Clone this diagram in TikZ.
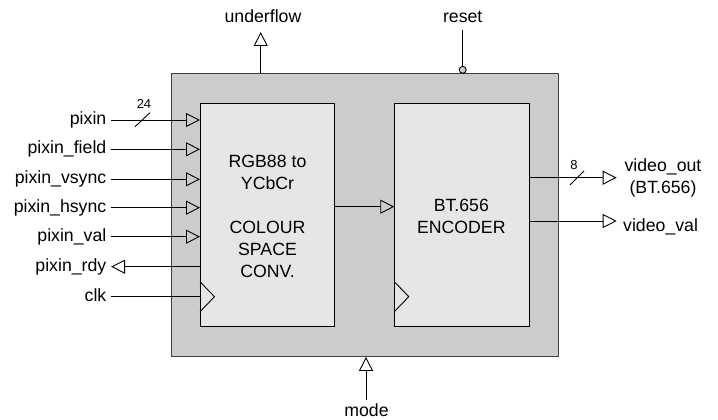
\documentclass[tikz,border=0pt]{standalone}
\usepackage{fontspec}
\setmainfont{Liberation Sans}
\usetikzlibrary{arrows.meta}
\definecolor{outerfill}{RGB}{204,204,204}
\definecolor{innerfill}{RGB}{230,230,230}
\tikzset{
  every node/.style={font=\fontsize{17.7}{22}\selectfont},
  sig/.style={line width=0.9pt, draw=black},
  tip/.style={sig, -{Triangle[open, length=14pt, width=14pt, line width=0.9pt]}},
  lbl/.style={inner xsep=4.5pt, inner ysep=0pt, text height=13.2pt, text depth=4pt},
  small/.style={font=\fontsize{13}{15}\selectfont, inner sep=0pt},
  blockbox/.style={draw=black, line width=0.9pt, fill=innerfill, inner sep=0pt, anchor=north west,
    minimum width=134.2pt, minimum height=222.7pt},
}
\begin{document}
\begin{tikzpicture}[x=1pt,y=-1pt]
\useasboundingbox (0,0) rectangle (718,420);

% boxes
\node (outer) [draw=black!75, line width=0.9pt, fill=outerfill, inner sep=0pt, anchor=north west,
  minimum width=386.5pt, minimum height=282.7pt] at (171,73.3) {};
\node (lbox) [blockbox] at (200,103.3) {};
\node (rbox) [blockbox] at (394.3,103.3) {};

% box texts (base anchor = last line baseline)
\node (ltext) [anchor=base, align=center, inner sep=0pt] at (267.5,277.5)
  {RGB88 to\\YCbCr\\[22pt]COLOUR\\SPACE\\CONV.};
\node (rtext) [anchor=base, align=center, inner sep=0pt] at (461.3,233.3)
  {BT.656\\ENCODER};

% clock triangles
\draw[sig, line join=miter] (200,281.7) -- (214.5,296.7) -- (200,311.7);
\draw[sig, line join=miter] (394.3,281.7) -- (408.8,296.7) -- (394.3,311.7);

% left labels
\node (pixin)  [lbl, anchor=east] at (111,120)   {pixin};
\node (pfield) [lbl, anchor=east] at (111,149.3) {pixin\_field};
\node (pvs)    [lbl, anchor=east] at (111,179.3) {pixin\_vsync};
\node (phs)    [lbl, anchor=east] at (111,207.7) {pixin\_hsync};
\node (pval)   [lbl, anchor=east] at (111,236.7) {pixin\_val};
\node (prdy)   [lbl, anchor=east] at (111,266.7) {pixin\_rdy};
\node (clk)    [lbl, anchor=east] at (111,296.7) {clk};

\draw[tip] (pixin.east)  -- (pixin.east -| lbox.west);
\draw[tip] (pfield.east) -- (pfield.east -| lbox.west);
\draw[tip] (pvs.east)    -- (pvs.east -| lbox.west);
\draw[tip] (phs.east)    -- (phs.east -| lbox.west);
\draw[tip] (pval.east)   -- (pval.east -| lbox.west);
\draw[tip] (prdy.east -| lbox.west) -- (prdy.east);
\draw[sig] (clk.east)    -- (clk.east -| lbox.west);

% bus width on pixin
\draw[sig] (135,126.7) -- (150,112.7);
\node (w24) [small, anchor=base] at (144,108.3) {24};

% internal connection
\coordinate (mid) at (0,206.7);
\draw[tip] (lbox.east |- mid) -- (rbox.west |- mid);

% top signals
\node (uflow) [anchor=base, inner sep=0pt] at (263,22.7) {underflow};
\node (reset) [anchor=base, inner sep=0pt] at (462.7,22.7) {reset};
\coordinate (uftip) at (260.7,32);
\draw[tip] (outer.north -| uftip) -- (uftip);
\node (rstbub) [circle, draw=black, line width=0.9pt, fill=outerfill, inner sep=0pt, minimum size=7pt]
  at (462.7,69.8) {};
\draw[sig] (462.7,30) -- (rstbub.north);

% bottom signal
\node (mode) [anchor=base, inner sep=0pt] at (366.5,416.8) {mode};
\coordinate (modebot) at (366,400);
\draw[tip] (modebot) -- (outer.south -| modebot);

% right outputs
\coordinate (votip) at (616.7,177.7);
\coordinate (vvtip) at (616.7,221);
\draw[tip] (rbox.east |- votip) -- (votip);
\draw[tip] (rbox.east |- vvtip) -- (vvtip);
\draw[sig] (570,185) -- (584,171);
\node (w8) [small, anchor=base] at (574,169.5) {8};
\node (vout) [anchor=base, align=center, inner sep=0pt] at (663,193.2) {video\_out\\(BT.656)};
\node (vval) [anchor=base west, inner sep=0pt] at (623,231) {video\_val};
\end{tikzpicture}
\end{document}
